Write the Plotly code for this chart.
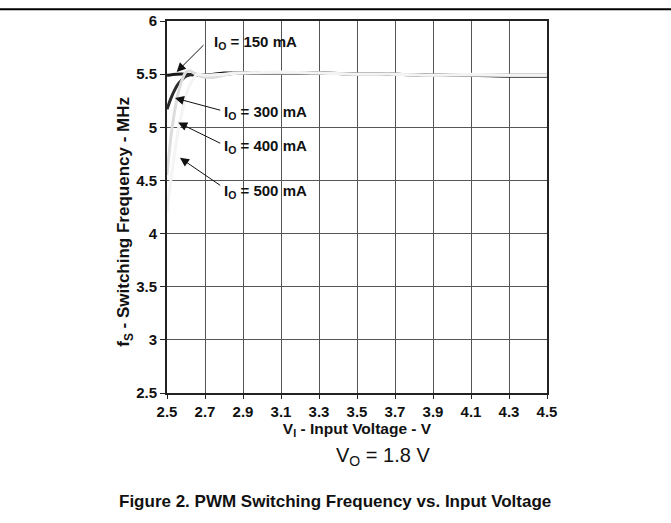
import plotly.graph_objects as go

# Data
vin_150 = [2.5, 2.55, 2.6, 2.65, 2.7, 2.8, 2.9, 3.1, 3.3, 3.5, 3.7, 3.9, 4.1, 4.3, 4.5]
fs_150 = [5.49, 5.50, 5.50, 5.49, 5.49, 5.51, 5.51, 5.51, 5.51, 5.50, 5.50, 5.49, 5.49, 5.49, 5.49]

vin_300 = [2.5, 2.52, 2.54, 2.56, 2.58, 2.6, 2.63, 2.7, 2.8, 2.9, 3.1, 3.3, 3.5, 3.7, 3.9, 4.1, 4.3, 4.5]
fs_300 = [5.17, 5.27, 5.35, 5.41, 5.45, 5.48, 5.50, 5.49, 5.50, 5.51, 5.51, 5.51, 5.50, 5.50, 5.49, 5.49, 5.48, 5.48]

vin_400 = [2.5, 2.52, 2.54, 2.56, 2.58, 2.6, 2.62, 2.66, 2.7, 2.75, 2.8, 2.85, 2.9, 3.1, 3.3, 3.5, 3.7, 3.9, 4.1, 4.3, 4.5]
fs_400 = [4.55, 4.90, 5.15, 5.33, 5.45, 5.52, 5.53, 5.49, 5.47, 5.47, 5.49, 5.51, 5.51, 5.51, 5.51, 5.50, 5.50, 5.49, 5.49, 5.49, 5.49]

vin_500 = [2.5, 2.52, 2.54, 2.56, 2.58, 2.6, 2.62, 2.64, 2.66, 2.7, 2.8, 2.9, 3.1, 3.3, 3.5, 3.7, 3.9, 4.1, 4.3, 4.5]
fs_500 = [4.20, 4.50, 4.75, 4.98, 5.15, 5.30, 5.40, 5.46, 5.50, 5.49, 5.50, 5.51, 5.52, 5.51, 5.50, 5.50, 5.49, 5.50, 5.49, 5.49]

x_ticks = [2.5, 2.7, 2.9, 3.1, 3.3, 3.5, 3.7, 3.9, 4.1, 4.3, 4.5]
y_ticks = [2.5, 3, 3.5, 4, 4.5, 5, 5.5, 6]

labels = ["I<sub>O</sub> = 150 mA", "I<sub>O</sub> = 300 mA", "I<sub>O</sub> = 400 mA", "I<sub>O</sub> = 500 mA"]
label_pos = [(2.735, 5.80), (2.792, 5.14), (2.792, 4.815), (2.792, 4.40)]
arrow_tails = [(2.70, 5.787), (2.788, 5.157), (2.788, 4.843), (2.788, 4.444)]
arrow_tips = [(2.551, 5.521), (2.542, 5.275), (2.559, 5.044), (2.568, 4.713)]

FONT = "Liberation Sans, Arial, sans-serif"
INK = "#111111"

# Pixel geometry of the plot area
L, R, T, B = 167, 547, 15, 393
W, H = 671, 523
def px(xp):
    return (xp - L) / (R - L)
def py(yp):
    return (B - yp) / (B - T)

fig = go.Figure()
series = [
    (vin_150, fs_150, "#1a1a1a", "150 mA"),
    (vin_300, fs_300, "#2a2a2a", "300 mA"),
    (vin_400, fs_400, "#dcdcdc", "400 mA"),
    (vin_500, fs_500, "#f4f4f4", "500 mA"),
]
for xs, ys, col, nm in series:
    fig.add_trace(go.Scatter(x=xs, y=ys, mode="lines", name=nm,
                             line=dict(color=col, width=3, shape="spline", smoothing=0.8),
                             showlegend=False))

annotations = []
for (tx, ty), (hx, hy), (lx, ly), txt in zip(arrow_tails, arrow_tips, label_pos, labels):
    annotations.append(dict(x=hx, y=hy, ax=tx, ay=ty, xref="x", yref="y", axref="x", ayref="y",
                            text="", showarrow=True, arrowhead=2, arrowsize=1.8, arrowwidth=1,
                            arrowcolor=INK, standoff=0, startstandoff=0))
    annotations.append(dict(x=lx, y=ly, xref="x", yref="y", text=txt, showarrow=False,
                            xanchor="left", yanchor="middle",
                            font=dict(family=FONT, size=15, color=INK, weight="bold")))

annotations.append(dict(x=px(125), y=py(219), xref="paper", yref="paper",
                        text="f<sub>S</sub> - Switching Frequency - MHz", textangle=-90,
                        showarrow=False, xanchor="center", yanchor="middle",
                        font=dict(family=FONT, size=17, color=INK, weight="bold")))
annotations.append(dict(x=px(383), y=py(458), xref="paper", yref="paper",
                        text="V<sub>O</sub> = 1.8 V", showarrow=False,
                        xanchor="center", yanchor="middle",
                        font=dict(family=FONT, size=20, color=INK)))
annotations.append(dict(x=px(335), y=py(503), xref="paper", yref="paper",
                        text="Figure 2. PWM Switching Frequency vs. Input Voltage",
                        showarrow=False, xanchor="center", yanchor="middle",
                        font=dict(family=FONT, size=17, color=INK, weight="bold")))
fig.update_layout(annotations=annotations)

fig.add_shape(type="line", xref="paper", yref="paper", x0=px(0), x1=px(W), y0=py(3), y1=py(3),
              line=dict(color="#000000", width=2))

fig.update_xaxes(range=[2.5, 4.5], tickvals=x_ticks, ticktext=[f"{v:.1f}" for v in x_ticks],
                 showgrid=True, gridcolor="#555555", gridwidth=1.3,
                 showline=True, linecolor="#222222", linewidth=2, mirror=True,
                 ticks="outside", ticklen=4, tickcolor="#222222", zeroline=False,
                 tickfont=dict(family=FONT, size=15, color=INK, weight="bold"),
                 title=dict(text="V<sub>I</sub> - Input Voltage - V", standoff=2,
                            font=dict(family=FONT, size=15.5, color=INK, weight="bold")))
fig.update_yaxes(range=[2.5, 6], tickvals=y_ticks, ticktext=[f"{v:g}" for v in y_ticks],
                 showgrid=True, gridcolor="#555555", gridwidth=1.3,
                 showline=True, linecolor="#222222", linewidth=2, mirror=True,
                 ticks="outside", ticklen=5, tickcolor="#222222", zeroline=False,
                 tickfont=dict(family=FONT, size=15, color=INK, weight="bold"))

fig.update_layout(width=W, height=H, margin=dict(l=L, r=W - R, t=T, b=H - B, pad=0),
                  plot_bgcolor="white", paper_bgcolor="white")

fig.write_html("out.html", config={"displayModeBar": False},
               post_script="document.body.style.margin='0';document.body.style.padding='0';")
